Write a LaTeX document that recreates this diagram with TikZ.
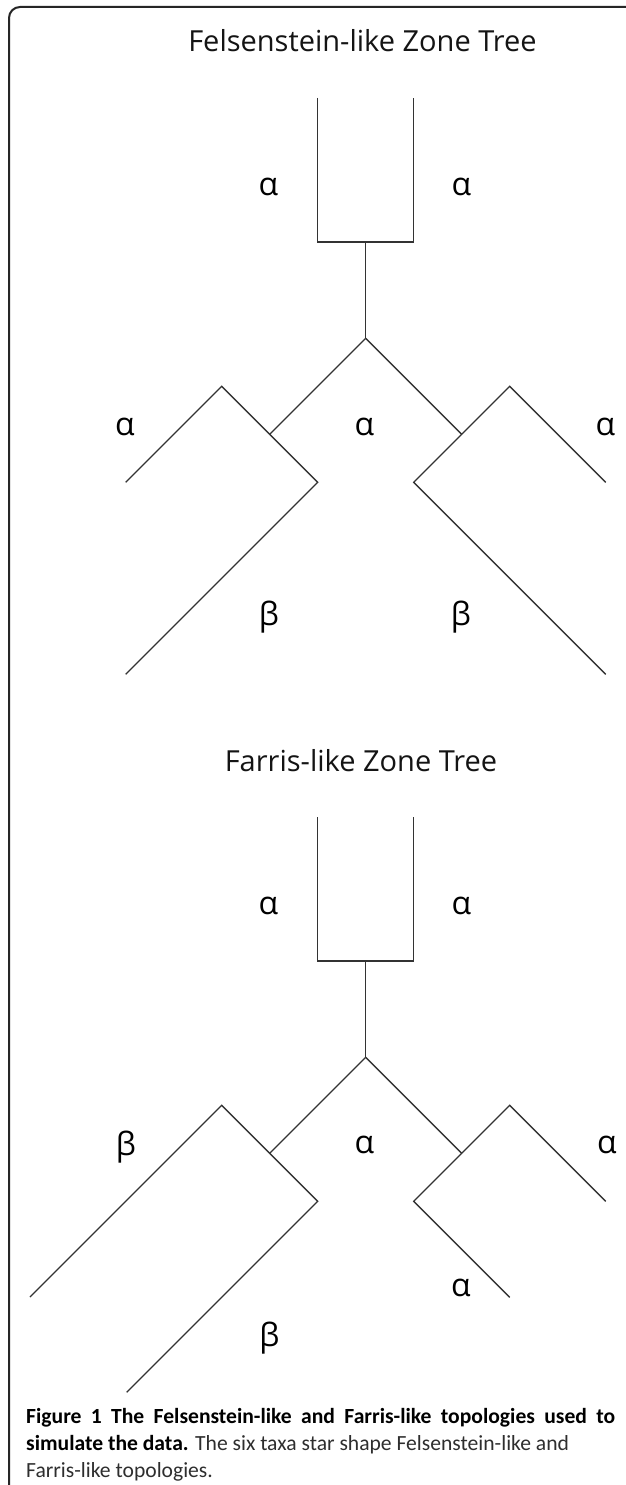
\documentclass[tikz,border=0pt]{standalone}
\usepackage{fontspec}
\setmainfont{Open Sans}
\newfontfamily\capfont{Carlito}
\begin{document}
\begin{tikzpicture}[x=1pt,y=-1pt,
  tree/.style={line width=1.3pt, draw=black!80, line join=miter},
  frame/.style={line width=2pt, draw=black!85},
  ttl/.style={inner sep=0pt, anchor=base, font=\fontsize{29}{34}\selectfont, text=black!92},
  lab/.style={inner sep=0pt, anchor=center, font=\fontsize{32}{37}\selectfont, text=black},
  capl/.style={inner sep=0pt, anchor=base west, font=\capfont\fontsize{21.6}{26}\selectfont}]
\useasboundingbox (0,0) rectangle (625,1485);
\fill[white] (0,0) rectangle (625,1485);
% frame
\coordinate (frTR) at (630,7);
\coordinate (frC) at (9,7);
\coordinate (frBL) at (9,1490);
\draw[frame, rounded corners=11pt] (frTR) -- (frC) -- (frBL);

% ---------- Felsenstein-like tree ----------
\node[ttl] (t1) at (362.5,52) {Felsenstein-like Zone Tree};
\coordinate (fTL) at (317.7,98);
\coordinate (fTR) at (413.7,98);
\coordinate (fBL) at (317.7,242);
\coordinate (fBR) at (413.7,242);
\coordinate (fM) at (365.7,242);
\coordinate (fA) at (365.7,338.3);
\coordinate (fJL) at (269.7,434.3);
\coordinate (fPL) at (221.7,386.3);
\coordinate (fEL) at (125.7,482.3);
\coordinate (fLL) at (317.7,482.3);
\coordinate (fDL) at (125.7,674.3);
\coordinate (fJR) at (461.7,434.3);
\coordinate (fPR) at (509.7,386.3);
\coordinate (fER) at (605.7,482.3);
\coordinate (fLR) at (413.7,482.3);
\coordinate (fDR) at (605.7,674.3);
\draw[tree] (fTL) -- (fBL) -- (fBR) -- (fTR);
\draw[tree] (fM) -- (fA);
\draw[tree] (fA) -- (fJL);
\draw[tree] (fA) -- (fJR);
\draw[tree] (fEL) -- (fPL) -- (fLL) -- (fDL);
\draw[tree] (fER) -- (fPR) -- (fLR) -- (fDR);
\node[lab] (fa1) at (268.3,187) {α};
\node[lab] (fa2) at (461.5,187) {α};
\node[lab] (fa3) at (125,427) {α};
\node[lab] (fa4) at (364.3,427) {α};
\node[lab] (fa5) at (605.5,427) {α};
\node[lab] (fb1) at (269,617) {β};
\node[lab] (fb2) at (461,617) {β};

% ---------- Farris-like tree ----------
\node[ttl] (t2) at (361,771) {Farris-like Zone Tree};
\coordinate (gTL) at (317.7,817);
\coordinate (gTR) at (413.7,817);
\coordinate (gBL) at (317.7,961);
\coordinate (gBR) at (413.7,961);
\coordinate (gM) at (365.7,961);
\coordinate (gA) at (365.7,1057.3);
\coordinate (gJL) at (269.7,1153.3);
\coordinate (gPL) at (221.7,1105.3);
\coordinate (gEL) at (30,1297);
\coordinate (gLL) at (317.7,1201.3);
\coordinate (gDL) at (126.7,1392.3);
\coordinate (gJR) at (461.7,1153.3);
\coordinate (gPR) at (509.7,1105.3);
\coordinate (gER) at (605.7,1201.3);
\coordinate (gLR) at (413.7,1201.3);
\coordinate (gDR) at (509.7,1297.3);
\draw[tree] (gTL) -- (gBL) -- (gBR) -- (gTR);
\draw[tree] (gM) -- (gA);
\draw[tree] (gA) -- (gJL);
\draw[tree] (gA) -- (gJR);
\draw[tree] (gEL) -- (gPL) -- (gLL) -- (gDL);
\draw[tree] (gER) -- (gPR) -- (gLR) -- (gDR);
\node[lab] (ga1) at (268.3,906) {α};
\node[lab] (ga2) at (461.5,906) {α};
\node[lab] (gb1) at (126,1147) {β};
\node[lab] (ga3) at (364.3,1145) {α};
\node[lab] (ga4) at (607,1145) {α};
\node[lab] (ga5) at (461,1288) {α};
\node[lab] (gb2) at (269.3,1338.3) {β};

% ---------- caption ----------
\node[capl] (c1) at (26,1423.3) {\makebox[589pt][s]{\bfseries Figure 1 The Felsenstein-like and Farris-like topologies used to}};
\node[capl] (c2) at (26,1450.7) {\textbf{simulate the data.} \textcolor{black!82}{The six taxa star shape Felsenstein-like and}};
\node[capl, text=black!82] (c3) at (26,1477.3) {Farris-like topologies.};
\end{tikzpicture}
\end{document}
